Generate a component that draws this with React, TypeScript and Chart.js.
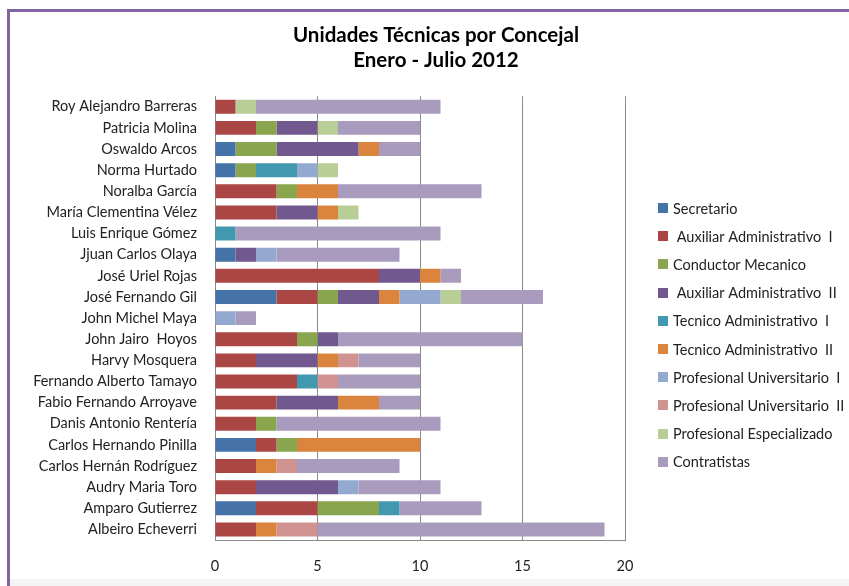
import React, { useEffect, useRef } from "react";
import { Chart, registerables } from "chart.js";

Chart.register(...registerables);

const categories = [
  "Roy Alejandro Barreras",
  "Patricia Molina",
  "Oswaldo Arcos",
  "Norma Hurtado",
  "Noralba García",
  "María Clementina Vélez",
  "Luis Enrique Gómez",
  "Jjuan Carlos Olaya",
  "José Uriel Rojas",
  "José Fernando Gil",
  "John Michel Maya",
  "John Jairo  Hoyos",
  "Harvy Mosquera",
  "Fernando Alberto Tamayo",
  "Fabio Fernando Arroyave",
  "Danis Antonio Rentería",
  "Carlos Hernando Pinilla",
  "Carlos Hernán Rodríguez",
  "Audry Maria Toro",
  "Amparo Gutierrez",
  "Albeiro Echeverri",
];

const seriesNames = [
  "Secretario",
  " Auxiliar Administrativo  I",
  "Conductor Mecanico",
  " Auxiliar Administrativo  II",
  "Tecnico Administrativo  I",
  "Tecnico Administrativo  II",
  "Profesional Universitario  I",
  "Profesional Universitario  II",
  "Profesional Especializado",
  "Contratistas",
];

const seriesColors = [
  "#4572A7",
  "#AA4643",
  "#89A54E",
  "#71588F",
  "#4198AF",
  "#DB843D",
  "#93A9CF",
  "#D19392",
  "#B9CD96",
  "#A99BBD",
];

const secretario = [0, 0, 1, 1, 0, 0, 0, 1, 0, 3, 0, 0, 0, 0, 0, 0, 2, 0, 0, 2, 0];
const auxiliarI = [1, 2, 0, 0, 3, 3, 0, 0, 8, 2, 0, 4, 2, 4, 3, 2, 1, 2, 2, 3, 2];
const conductor = [0, 1, 2, 1, 1, 0, 0, 0, 0, 1, 0, 1, 0, 0, 0, 1, 1, 0, 0, 3, 0];
const auxiliarII = [0, 2, 4, 0, 0, 2, 0, 1, 2, 2, 0, 1, 3, 0, 3, 0, 0, 0, 4, 0, 0];
const tecnicoI = [0, 0, 0, 2, 0, 0, 1, 0, 0, 0, 0, 0, 0, 1, 0, 0, 0, 0, 0, 1, 0];
const tecnicoII = [0, 0, 1, 0, 2, 1, 0, 0, 1, 1, 0, 0, 1, 0, 2, 0, 6, 1, 0, 0, 1];
const profUnivI = [0, 0, 0, 1, 0, 0, 0, 1, 0, 2, 1, 0, 0, 0, 0, 0, 0, 0, 1, 0, 0];
const profUnivII = [0, 0, 0, 0, 0, 0, 0, 0, 0, 0, 0, 0, 1, 1, 0, 0, 0, 1, 0, 0, 2];
const profEspecializado = [1, 1, 0, 1, 0, 1, 0, 0, 0, 1, 0, 0, 0, 0, 0, 0, 0, 0, 0, 0, 0];
const contratistas = [9, 4, 2, 0, 7, 0, 10, 6, 1, 4, 1, 9, 3, 4, 2, 8, 0, 5, 4, 4, 14];

const seriesValues = [
  secretario,
  auxiliarI,
  conductor,
  auxiliarII,
  tecnicoI,
  tecnicoII,
  profUnivI,
  profUnivII,
  profEspecializado,
  contratistas,
];

const xTicks = [0, 5, 10, 15, 20];

const FONT = "Lato, 'Open Sans', 'DejaVu Sans', sans-serif";
const TEXT_SIZE = 14.5;

// Legend drawn in the space reserved on the right of the plot area.
const sideLegend = {
  id: "sideLegend",
  afterDraw(chart: any) {
    const ctx = chart.ctx;
    const area = chart.chartArea;
    const x = area.right + 33;
    const firstY = 208;
    const step = 28.2;
    const box = 10;
    ctx.save();
    ctx.font = `${TEXT_SIZE}px ${FONT}`;
    ctx.textBaseline = "middle";
    ctx.textAlign = "left";
    chart.data.datasets.forEach((ds: any, i: number) => {
      const y = firstY + i * step;
      ctx.fillStyle = ds.backgroundColor;
      ctx.fillRect(x, Math.round(y - box / 2), box, box);
      ctx.fillStyle = "#222";
      ctx.fillText(ds.label, x + box + 5, y + 1);
    });
    ctx.restore();
  },
};

export default function App() {
  const canvasRef = useRef<HTMLCanvasElement | null>(null);

  useEffect(() => {
    if (!canvasRef.current) return;
    const chart = new Chart(canvasRef.current, {
      type: "bar",
      data: {
        labels: categories,
        datasets: seriesNames.map((name, i) => ({
          label: name,
          data: seriesValues[i].map((v) => (v === 0 ? null : v)),
          backgroundColor: seriesColors[i],
          borderWidth: 0,
          categoryPercentage: 1,
          barPercentage: 0.66,
        })),
      },
      plugins: [sideLegend],
      options: {
        indexAxis: "y",
        animation: false,
        responsive: false,
        maintainAspectRatio: false,
        layout: { padding: { left: 23, right: 0, top: 0, bottom: 0 } },
        plugins: {
          title: {
            display: true,
            text: ["Unidades Técnicas por Concejal", "Enero - Julio 2012"],
            color: "#000",
            font: { family: FONT, size: 20.5, weight: "bold", lineHeight: 1.2 },
            padding: { top: 23, bottom: 24 },
          },
          legend: { display: false },
          tooltip: { enabled: false },
        },
        scales: {
          x: {
            stacked: true,
            min: 0,
            max: 20,
            afterBuildTicks: (scale: any) => {
              scale.ticks = xTicks.map((v) => ({ value: v }));
            },
            grid: { color: "#8a8a8a", lineWidth: 1, drawTicks: false },
            border: { display: true, color: "#8a8a8a" },
            ticks: {
              color: "#222",
              font: { family: FONT, size: TEXT_SIZE },
              padding: 18,
            },
            afterFit: (scale: any) => {
              scale.height = 46;
            },
          },
          y: {
            stacked: true,
            grid: { display: false, drawTicks: false },
            border: { display: true, color: "#8a8a8a" },
            ticks: {
              color: "#222",
              font: { family: FONT, size: TEXT_SIZE },
              padding: 18,
              autoSkip: false,
            },
            afterFit: (scale: any) => {
              scale.width = 192;
            },
          },
          y2: {
            position: "right",
            display: true,
            grid: { display: false, drawTicks: false },
            border: { display: false },
            ticks: { display: false },
            afterFit: (scale: any) => {
              scale.width = 224;
            },
          },
        },
      } as any,
    });
    return () => chart.destroy();
  }, []);

  return (
    <div
      style={{
        position: "absolute",
        left: 0,
        top: 0,
        width: 849,
        height: 586,
        overflow: "hidden",
        background: "#fff",
      }}
    >
      <div
        style={{
          position: "absolute",
          left: 7,
          top: 9,
          width: 860,
          height: 600,
          borderLeft: "3px solid #8064A2",
          borderTop: "3px solid #8064A2",
        }}
      />
      <div
        style={{
          position: "absolute",
          left: 10,
          top: 579,
          width: 860,
          height: 10,
          background: "#f4f4f4",
        }}
      />
      <canvas
        ref={canvasRef}
        width={849}
        height={586}
        style={{ position: "absolute", left: 0, top: 0, width: 849, height: 586 }}
      />
    </div>
  );
}
